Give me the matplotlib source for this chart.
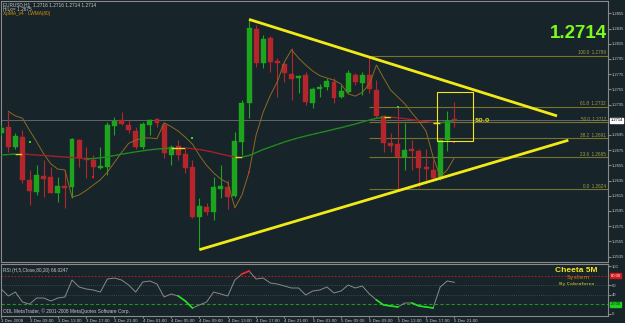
import numpy as np
import matplotlib
matplotlib.use('Agg')
import matplotlib.pyplot as plt
import matplotlib.transforms as mtrans
from matplotlib.collections import LineCollection
from matplotlib.patches import Rectangle

#--------#
# INPUTS #
#--------#

# header texts
symbol_line = 'EURUSD,H1  1.2716 1.2716 1.2714 1.2714'
hilo_line = 'HiLo= 1.2675'
ma_line = 'XpMA_v4 \u00b7 LWMA(80)'
rsi_label = 'RSI (H,5,Close,80,20) 66.0247'
copyright_txt = 'ODL MetaTrader, \u00a9 2001-2008 MetaQuotes Software Corp.'
last_price = 1.2714

# time axis labels (one every 4 H1 bars)
time_labels = ['3 Dec 2008', '3 Dec 09:00', '3 Dec 13:00', '3 Dec 17:00', '3 Dec 21:00',
               '4 Dec 01:00', '4 Dec 05:00', '4 Dec 09:00', '4 Dec 13:00', '4 Dec 17:00',
               '4 Dec 21:00', '5 Dec 01:00', '5 Dec 05:00', '5 Dec 09:00', '5 Dec 13:00',
               '5 Dec 17:00', '5 Dec 21:00']

# OHLC of the 65 hourly candles
opens = [1.2697, 1.2706, 1.2679, 1.2692, 1.2636, 1.2620, 1.2641, 1.2640, 1.2619, 1.2628,
         1.2627, 1.2688, 1.2665, 1.2662, 1.2652, 1.2653, 1.2707, 1.2715, 1.2708, 1.2700,
         1.2679, 1.2708, 1.2716, 1.2708, 1.2668, 1.2680, 1.2670, 1.2653, 1.2587, 1.2600,
         1.2594, 1.2624, 1.2627, 1.2615, 1.2686, 1.2737, 1.2834, 1.2790, 1.2823, 1.2792,
         1.2788, 1.2775, 1.2770, 1.2774, 1.2737, 1.2756, 1.2758, 1.2765, 1.2745, 1.2751,
         1.2774, 1.2763, 1.2774, 1.2754, 1.2720, 1.2684, 1.2683, 1.2666, 1.2676, 1.2674,
         1.2653, 1.2649, 1.2640, 1.2688, 1.2716]
highs = [1.2708, 1.2725, 1.2697, 1.2701, 1.2649, 1.2655, 1.2662, 1.2653, 1.2640, 1.2649,
         1.2691, 1.2690, 1.2679, 1.2668, 1.2679, 1.2712, 1.2719, 1.2725, 1.2715, 1.2706,
         1.2712, 1.2716, 1.2717, 1.2711, 1.2682, 1.2688, 1.2677, 1.2662, 1.2612, 1.2605,
         1.2640, 1.2655, 1.2636, 1.2699, 1.2741, 1.2847, 1.2840, 1.2827, 1.2825, 1.2796,
         1.2791, 1.2809, 1.2774, 1.2778, 1.2758, 1.2762, 1.2770, 1.2770, 1.2761, 1.2780,
         1.2776, 1.2778, 1.2799, 1.2767, 1.2721, 1.2697, 1.2732, 1.2711, 1.2688, 1.2677,
         1.2677, 1.2662, 1.2690, 1.2726, 1.2738]
lows = [1.2694, 1.2672, 1.2676, 1.2632, 1.2603, 1.2616, 1.2613, 1.2618, 1.2607, 1.2599,
        1.2612, 1.2653, 1.2638, 1.2638, 1.2650, 1.2642, 1.2695, 1.2708, 1.2697, 1.2677,
        1.2677, 1.2695, 1.2706, 1.2665, 1.2655, 1.2662, 1.2645, 1.2586, 1.2544, 1.2590,
        1.2583, 1.2612, 1.2598, 1.2613, 1.2668, 1.2717, 1.2784, 1.2783, 1.2778, 1.2745,
        1.2765, 1.2741, 1.2750, 1.2734, 1.2730, 1.2745, 1.2754, 1.2737, 1.2744, 1.2750,
        1.2761, 1.2747, 1.2750, 1.2717, 1.2672, 1.2672, 1.2624, 1.2649, 1.2649, 1.2626,
        1.2636, 1.2636, 1.2636, 1.2674, 1.2706]
closes = [1.2704, 1.2679, 1.2694, 1.2636, 1.2621, 1.2642, 1.2637, 1.2619, 1.2628, 1.2625,
          1.2690, 1.2665, 1.2662, 1.2653, 1.2654, 1.2708, 1.2713, 1.2709, 1.2701, 1.2679,
          1.2709, 1.2715, 1.2711, 1.2671, 1.2679, 1.2668, 1.2651, 1.2587, 1.2602, 1.2593,
          1.2627, 1.2628, 1.2613, 1.2687, 1.2737, 1.2836, 1.2790, 1.2821, 1.2791, 1.2790,
          1.2776, 1.2769, 1.2772, 1.2738, 1.2756, 1.2758, 1.2766, 1.2744, 1.2753, 1.2776,
          1.2765, 1.2774, 1.2756, 1.2720, 1.2684, 1.2680, 1.2666, 1.2675, 1.2674, 1.2652,
          1.2650, 1.2638, 1.2688, 1.2713, 1.2714]

# fast MA (first bar has no value)
fast_ma = [np.nan, 1.2726, 1.2720, 1.2717, 1.2701, 1.2686, 1.2670, 1.2657, 1.2650, 1.2649,
           1.2613, 1.2616, 1.2622, 1.2629, 1.2636, 1.2646, 1.2659, 1.2672, 1.2684, 1.2688,
           1.2691, 1.2691, 1.2690, 1.2711, 1.2706, 1.2700, 1.2692, 1.2683, 1.2668, 1.2655,
           1.2645, 1.2637, 1.2632, 1.2599, 1.2616, 1.2646, 1.2695, 1.2725, 1.2747, 1.2765,
           1.2791, 1.2807, 1.2796, 1.2787, 1.2779, 1.2773, 1.2770, 1.2767, 1.2762, 1.2749,
           1.2746, 1.2751, 1.2762, 1.2787, 1.2770, 1.2754, 1.2745, 1.2736, 1.2724, 1.2713,
           1.2700, 1.2666, 1.2640, 1.2649, 1.2665]

# LWMA(80)
lwma = [1.26686, 1.26692, 1.26699, 1.26699, 1.26692, 1.26686, 1.26679, 1.26672, 1.26666, 1.26659,
        1.26653, 1.26646, 1.26635, 1.26639, 1.26649, 1.26662, 1.26679, 1.26696, 1.26712, 1.26728,
        1.26741, 1.26754, 1.26764, 1.26772, 1.26778, 1.26778, 1.26778, 1.26770, 1.26758, 1.26741,
        1.26721, 1.26699, 1.26678, 1.26659, 1.26659, 1.26679, 1.26718, 1.26758, 1.26791, 1.26824,
        1.26857, 1.26886, 1.26912, 1.26936, 1.26958, 1.26980, 1.27001, 1.27024, 1.27046, 1.27070,
        1.27093, 1.27120, 1.27146, 1.27168, 1.27183, 1.27183, 1.27175, 1.27164, 1.27151, 1.27138,
        1.27125, 1.27112, 1.27112, 1.27117, 1.27122]

# MA cross signal dots
buy_bars = [4, 27, 56]
buy_prices = [1.2686, 1.2691, 1.2732]
sell_bars = [13, 35, 64]
sell_prices = [1.2640, 1.2646, 1.2686]

# RSI
rsi = [52.1, 37.5, 45.8, 25.0, 20.5, 33.3, 33.3, 27.1, 33.3, 35.4,
       70.8, 56.3, 52.1, 50.0, 45.8, 72.9, 75.0, 70.8, 60.4, 45.8,
       66.7, 68.8, 62.5, 35.4, 41.7, 37.5, 27.1, 12.5, 18.8, 25.0,
       45.8, 41.7, 37.5, 70.8, 83.3, 89.6, 72.9, 75.0, 64.6, 62.5,
       58.3, 54.2, 54.2, 39.6, 47.9, 50.0, 56.3, 43.8, 47.9, 60.4,
       54.2, 58.3, 41.7, 29.2, 18.8, 16.7, 14.6, 22.9, 22.9, 16.7,
       14.6, 12.5, 56.3, 68.8, 66.0]
rsi_low_runs = [(25, 27), (53, 56), (58, 61)]
rsi_high_runs = [(34, 35)]

# drawn objects: triangle, box, fibonacci
tri_upper = ([35, 78.5], [1.2847, 1.2720])
tri_lower = ([28, 80.1], [1.2544, 1.2688])
box_bars = [61.6, 66.6]
box_prices = [1.2687, 1.2751]
fib_start = 52
fib_high = 1.2799
fib_low = 1.2624
fib_levels = [0.0, 23.6, 38.2, 50.0, 61.8, 100.0]

#----------#
# PLOTTING #
#----------#

W, H = 625, 323
bg = '#17242a'
grey = '#8a8a8a'
txt = '#c8c8c8'
c_up = '#1ea51e'
c_dn = '#b5262c'
yellow = '#f2ea16'
olive = '#75752a'
small = 'Liberation Sans'

def fx(px):
    return px / W

def fy(py):
    return 1 - py / H

bars = np.arange(len(closes))
o = np.array(opens)
c = np.array(closes)
hi = np.array(highs)
lo = np.array(lows)
xl = (-0.03, 85.7)

fig = plt.figure(figsize=(W / 100, H / 100), dpi=100)
fig.patch.set_facecolor(bg)

ax = fig.add_axes([fx(1), fy(262), fx(608) - fx(1), fy(1) - fy(262)])
ax2 = fig.add_axes([fx(1), fy(316), fx(608) - fx(1), fy(264) - fy(316)])

for a in (ax, ax2):
    a.set_facecolor(bg)
    a.set_xlim(*xl)
    for s in a.spines.values():
        s.set_color(grey)
        s.set_linewidth(0.8)

ax.set_ylim(1.25278, 1.28712)
ax2.set_ylim(-4.2, 104.2)

#
# Main panel
#

# bid line
ax.axhline(last_price, color='#707070', lw=0.6, zorder=1)

# fibonacci levels
for lvl in fib_levels:
    p = fib_low + (fib_high - fib_low) * lvl / 100
    ax.hlines(p, fib_start, xl[1], color=olive, lw=0.8, zorder=1)
    ax.text(xl[1] - 0.25, p + 0.00005, '%.1f  %.4f' % (lvl, p), ha='right', va='bottom',
            fontsize=3.3, color='#a0a040', family=small, zorder=2)

# candles
cols = np.where(c >= o, c_up, c_dn)
ax.vlines(bars, lo, hi, colors=cols, lw=0.8, zorder=3)
body_lo = np.minimum(o, c)
body_h = np.maximum(np.abs(c - o), 0.00012)
ax.bar(bars, body_h, bottom=body_lo, width=0.7, color=cols, edgecolor=cols, lw=0.3, zorder=4)

# moving averages
ax.plot(bars, fast_ma, color='#8c6a22', lw=0.7, zorder=5)
lw_arr = np.array(lwma)
segs = [[(bars[i], lw_arr[i]), (bars[i + 1], lw_arr[i + 1])] for i in range(len(bars) - 1)]
d = np.diff(lw_arr)
seg_cols = np.where(np.abs(d) < 1e-5, '#e0e020', np.where(d > 0, '#1e8c1e', '#a8202c'))
ax.add_collection(LineCollection(segs, colors=seg_cols, linewidths=1.0, zorder=5))

ax.scatter(buy_bars, buy_prices, marker='s', s=3, color='#20e020', lw=0, zorder=6)
ax.scatter(sell_bars, sell_prices, marker='s', s=3, color='#e02020', lw=0, zorder=6)

# triangle and box
ax.plot(*tri_upper, color=yellow, lw=2, solid_capstyle='butt', zorder=7)
ax.plot(*tri_lower, color=yellow, lw=2, solid_capstyle='butt', zorder=7)
ax.add_patch(Rectangle((box_bars[0], box_prices[0]), box_bars[1] - box_bars[0],
                       box_prices[1] - box_prices[0], fill=False, ec=yellow, lw=0.8, zorder=7))
ax.text(box_bars[1] + 0.2, last_price, '50.0', color='#d8c820', fontsize=4.5,
        fontweight='bold', va='center', ha='left', zorder=7)

# right price scale
yt = [round(1.2855 - 0.002 * k, 4) for k in range(17)]
yt = [v for v in yt if abs(v - 1.2715) > 1e-6]
ax.yaxis.tick_right()
ax.set_yticks(yt)
ax.set_yticklabels(['%.4f' % v for v in yt], family=small)
ax.tick_params(axis='y', length=2, pad=1, labelsize=3.0, colors=grey, labelcolor=txt)
ax.tick_params(axis='x', bottom=False, labelbottom=False)
trans = mtrans.blended_transform_factory(ax.transAxes, ax.transData)
ax.text(1.004, last_price, '%.4f' % last_price, transform=trans, fontsize=3.0, color='black',
        family=small, va='center', ha='left',
        bbox=dict(boxstyle='square,pad=0.15', fc='white', ec='white'))

# big price
fig.text(fx(607), fy(33), '%.4f' % last_price, color='#7dfa1e', fontsize=13.5,
         fontweight='bold', family='Liberation Sans', ha='right', va='center')

# header
fig.text(fx(3), fy(5), symbol_line, color=txt, fontsize=3.4, family=small, va='center')
fig.text(fx(3), fy(9.5), hilo_line, color=txt, fontsize=3.4, family=small, va='center')
fig.text(fx(3), fy(14), ma_line, color='#d89010', fontsize=3.4, family=small, va='center')

#
# RSI panel
#

ax2.axhline(80, color='#b01e1e', ls=(0, (1.5, 1.5)), lw=0.8)
ax2.axhline(60, color='#505050', ls=(0, (1, 1.5)), lw=0.6)
ax2.axhline(40, color='#505050', ls=(0, (1, 1.5)), lw=0.6)
ax2.axhline(20, color='#1a9a1a', ls=(0, (3, 2)), lw=0.8)

r = np.array(rsi)
ax2.plot(bars, r, color=grey, lw=0.7)
for a, b in rsi_low_runs:
    ax2.plot(bars[a:b + 1], r[a:b + 1], color='#22e022', lw=1.2)
for a, b in rsi_high_runs:
    ax2.plot(bars[a:b + 1], r[a:b + 1], color='#ff2020', lw=1.2)

ax2.yaxis.tick_right()
ax2.set_yticks([0, 40, 60, 100])
ax2.set_yticklabels(['0', '40', '60', '100'], family=small)
ax2.tick_params(axis='y', length=2, pad=1, labelsize=3.0, colors=grey, labelcolor=txt)
trans2 = mtrans.blended_transform_factory(ax2.transAxes, ax2.transData)
ax2.text(1.004, 80, '80.00', transform=trans2, fontsize=3.0, color='white', va='center',
         ha='left', family=small, bbox=dict(boxstyle='square,pad=0.15', fc='#d01818', ec='#d01818'))
ax2.text(1.004, 20, '20.00', transform=trans2, fontsize=3.0, color='#003000', va='center',
         ha='left', family=small, bbox=dict(boxstyle='square,pad=0.15', fc='#20d020', ec='#20d020'))

ax2.set_xticks(bars[::4])
ax2.set_xticklabels(time_labels, ha='left', family=small)
ax2.tick_params(axis='x', length=1.5, pad=0.8, labelsize=3.2, colors=grey, labelcolor=txt)

ax2.text(0.003, 0.93, rsi_label, transform=ax2.transAxes, fontsize=3.4, family=small,
         color=txt, va='top')
ax2.text(0.003, 0.04, copyright_txt, transform=ax2.transAxes, fontsize=3.4, family=small,
         color=txt, va='bottom')

fig.text(fx(576), fy(270.5), 'Cheeta 5M', color='#f5e61a', fontsize=6, fontweight='bold',
         family='Liberation Sans', ha='center', va='center')
fig.text(fx(578), fy(277), 'System', color='#c87810', fontsize=4.5, ha='center', va='center')
fig.text(fx(577), fy(284.5), 'By Cobraforex', color='#98a020', fontsize=3.2, fontweight='bold',
         ha='center', va='center')

fig.savefig('out.png', dpi=100, facecolor=bg)
